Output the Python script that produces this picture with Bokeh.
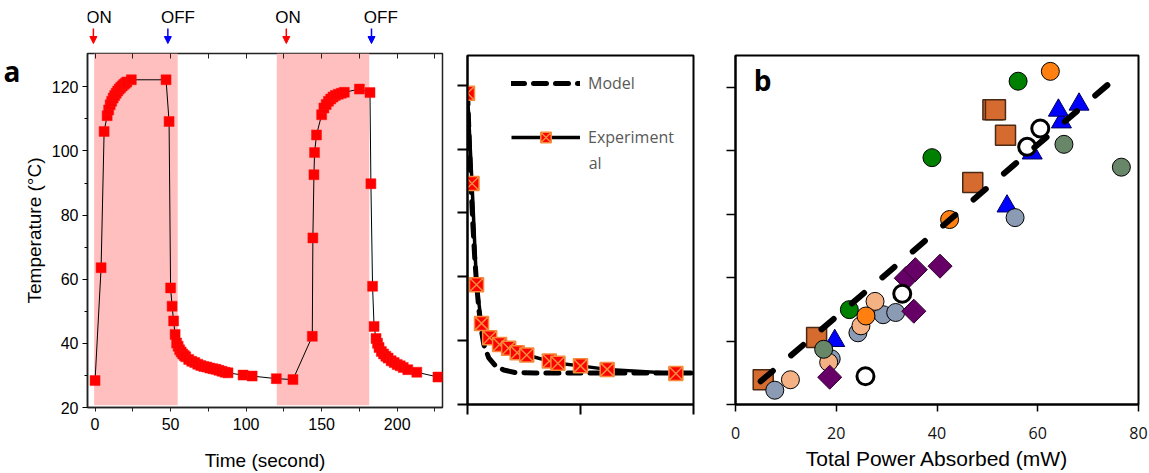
from bokeh.plotting import figure
from bokeh.layouts import row, column
from bokeh.core.properties import value
from bokeh.models import (Range1d, FixedTicker, LinearAxis, BoxAnnotation, Label,
                          Arrow, NormalHead, Legend, LegendItem)
from bokeh.embed import file_html
from bokeh.resources import INLINE

# ---------------- panel a : heating / cooling cycles ----------------
time_s = [0, 4, 6, 8, 9, 10, 11, 12, 13, 14, 15, 16, 17, 18, 19, 20, 21, 24, 47, 49,
          50, 51, 52, 53, 54, 55, 56, 57, 58, 59, 60, 62, 64, 66, 68, 70, 72, 74, 76, 78,
          80, 82, 84, 86, 88, 98, 104, 120,
          131, 143.8, 144.2, 144.9, 145.3, 146.6, 150, 151.5, 153, 154.5, 156, 157.5, 159,
          161, 163, 165, 175, 182,
          182.6, 183.7, 184.7, 186, 187, 188, 189.5, 191, 192.5, 194, 196, 198, 200, 202,
          204, 207, 213, 227]
temp_c = [28.4, 63.6, 106.1, 111, 112.8, 114.4, 115.5, 116.5, 117.3, 118, 118.7, 119.3,
          119.8, 120.3, 120.7, 121.1, 121.5, 122.2, 122.2, 109.2,
          57.3, 51.6, 47.0, 42.8, 40.1, 39.1, 38.0, 37.3, 36.7, 36.2, 35.8, 35.0, 34.4, 34.0,
          33.5, 33.1, 32.8, 32.6, 32.3, 32.1, 31.9, 31.6, 31.3, 31.0, 30.8, 30.1, 29.8, 29.0,
          28.7, 42.2, 72.9, 92.6, 99.5, 105.0, 111.3, 113.4, 114.5, 115.5, 116.2, 116.8,
          117.3, 117.7, 118.0, 118.3, 119.3, 118.2,
          89.8, 57.8, 45.3, 41.5, 40.0, 38.7, 37.5, 36.7, 36.0, 35.4, 34.6, 34.0, 33.4, 33.0,
          32.5, 31.8, 31.0, 29.5]
laser_on_start = [-0.6, 120.3]
laser_on_end = [54.7, 181.5]
on_marks = [-1.1, 126.6]
off_marks = [48.2, 183.0]
on_text_x = [2.6, 127.8]
off_text_x = [54.9, 189.2]
a_xticks = [0, 50, 100, 150, 200]
a_xminor = [25, 75, 125, 175, 225]
a_yticks = [20, 40, 60, 80, 100, 120]
a_yminor = [30, 50, 70, 90, 110]

# ---------------- middle panel : cooling, model vs experiment ----------------
decay_t = [0, 1.0, 2.0, 3.1, 4.9, 7.1, 9.1, 11.0, 13.1, 18.1, 20.0, 25.0, 30.9, 46.1]
decay_T = [117.5, 89.2, 57.5, 45.4, 40.9, 38.8, 37.6, 36.2, 35.5, 33.6, 32.9, 32.1, 31.0, 29.7]
model_t = [0, 0.4, 0.8, 1.2, 1.6, 2.0, 2.5, 3.0, 3.6, 4.7, 6.2, 8.0, 10.6, 15, 25, 35, 50]
model_T = [118, 102, 88, 76, 66, 58, 50, 44, 38.8, 34.6, 32.1, 30.8, 30.0, 29.9, 29.9, 29.9, 29.9]

# ---------------- panel b : temperature vs absorbed power ----------------
sq_p = [5.5, 16.1, 47.1, 51.1, 51.6, 53.6]
sq_T = [27.8, 41.1, 90.0, 112.9, 112.9, 104.9]
tri_p = [19.7, 53.9, 58.9, 64.7, 64.1, 68.2]
tri_T = [40.1, 82.5, 99.2, 109.0, 112.7, 114.6]
bluegrey_p = [7.8, 19.0, 24.3, 29.3, 31.8, 55.5]
bluegrey_T = [24.5, 34.4, 42.6, 48.3, 49.0, 78.9]
peach_p = [10.9, 18.5, 24.9, 27.7]
peach_T = [27.8, 33.3, 44.8, 52.5]
greygreen_p = [17.5, 65.2, 76.6]
greygreen_T = [37.4, 102.0, 94.8]
green_p = [22.6, 39.0, 56.1]
green_T = [49.9, 97.8, 121.9]
orange_p = [25.9, 42.5, 62.5]
orange_T = [47.9, 78.3, 125.0]
dia_p = [18.7, 35.4, 33.9, 35.7, 40.6]
dia_T = [28.6, 49.4, 59.8, 62.5, 63.6]
open_p = [25.8, 33.1, 57.9, 60.5]
open_T = [28.9, 54.9, 101.2, 107.0]
fit_p = [5.0, 77.1]
fit_T = [27.3, 125.1]
b_xticks = [0, 20, 40, 60, 80]
b_yticks = [20, 40, 60, 80, 100, 120]

ARIAL = "Liberation Sans"


def hide_labels(ax):
    ax.major_label_text_color = None
    ax.major_label_text_font_size = "1px"
    ax.major_label_standoff = 0


# ======================= ON / OFF strip above panel a =======================
xr_a = Range1d(-5, 230)
strip = figure(width=455, height=45, x_range=xr_a, y_range=Range1d(0, 45),
               output_backend="svg", toolbar_location=None,
               x_axis_location=None, y_axis_location=None,
               min_border_left=82, min_border_right=13, min_border_top=0, min_border_bottom=0)
strip.grid.visible = False
strip.outline_line_color = None
strip.text(x=on_text_x, y=[28, 28], text=["ON", "ON"], text_align="center",
           text_baseline="middle", text_font=value(ARIAL), text_font_size="17px",
           text_color="black")
strip.text(x=off_text_x, y=[28, 28], text=["OFF", "OFF"], text_align="center",
           text_baseline="middle", text_font=value(ARIAL), text_font_size="17px",
           text_color="black")
for t in on_marks:
    strip.add_layout(Arrow(end=NormalHead(size=7, fill_color="#FF0000", line_color="#FF0000"),
                           x_start=t, y_start=17, x_end=t, y_end=2,
                           line_color="#FF0000", line_width=1.5))
for t in off_marks:
    strip.add_layout(Arrow(end=NormalHead(size=7, fill_color="#0000FF", line_color="#0000FF"),
                           x_start=t, y_start=17, x_end=t, y_end=2,
                           line_color="#0000FF", line_width=1.5))

# ======================= panel a =======================
pa = figure(width=455, height=428, x_range=xr_a, y_range=Range1d(20, 130.4),
            output_backend="svg", toolbar_location=None,
            min_border_left=82, min_border_right=13, min_border_top=8, min_border_bottom=65)
pa.grid.visible = False
pa.outline_line_color = "#222222"
pa.outline_line_width = 1.5

xa = pa.xaxis[0]
xa.ticker = FixedTicker(ticks=a_xticks, minor_ticks=a_xminor)
xa.major_tick_out = 4; xa.major_tick_in = 0
xa.minor_tick_out = 4; xa.minor_tick_in = 0
xa.axis_line_width = 1.5; xa.axis_line_color = "#222222"
xa.major_tick_line_color = "#222222"; xa.minor_tick_line_color = "#222222"
xa.major_label_text_font = ARIAL; xa.major_label_text_font_size = "16px"
xa.major_label_text_color = "black"; xa.major_label_standoff = 6
xa.axis_label = "Time (second)"
xa.axis_label_text_font = ARIAL; xa.axis_label_text_font_size = "19px"
xa.axis_label_text_font_style = "normal"; xa.axis_label_text_color = "black"
xa.axis_label_standoff = 17

ya = pa.yaxis[0]
ya.ticker = FixedTicker(ticks=a_yticks, minor_ticks=a_yminor)
ya.major_tick_out = 5; ya.major_tick_in = 0
ya.minor_tick_out = 3; ya.minor_tick_in = 0
ya.axis_line_width = 1.5; ya.axis_line_color = "#222222"
ya.major_label_text_font = ARIAL; ya.major_label_text_font_size = "16px"
ya.major_label_text_color = "black"; ya.major_label_standoff = 4
ya.axis_label = "Temperature (°C)"
ya.axis_label_text_font = ARIAL; ya.axis_label_text_font_size = "19px"
ya.axis_label_text_font_style = "normal"; ya.axis_label_text_color = "black"
ya.axis_label_standoff = 4

# panel letter "a", carried by an outer left axis with a single labelled tick
letter_ax = LinearAxis(ticker=FixedTicker(ticks=[125]), major_label_overrides={125: "a"},
                       axis_line_color=None, major_tick_line_color=None,
                       minor_tick_line_color=None, major_label_standoff=-6,
                       major_label_orientation="horizontal",
                       major_label_text_font="Open Sans", major_label_text_font_size="28px",
                       major_label_text_font_style="bold", major_label_text_color="black")
pa.add_layout(letter_ax, "left")

top_ax = LinearAxis(ticker=FixedTicker(ticks=a_xticks + a_xminor), major_tick_in=5,
                    major_tick_out=0, minor_tick_line_color=None, axis_line_color=None,
                    major_tick_line_color="#222222")
hide_labels(top_ax)
pa.add_layout(top_ax, "above")

for s, e in zip(laser_on_start, laser_on_end):
    pa.add_layout(BoxAnnotation(left=s, right=e, bottom=20.7, fill_color="#FFBFBF",
                                fill_alpha=1.0, line_color=None, level="underlay"))

pa.line(time_s, temp_c, line_color="black", line_width=1)
pa.scatter(time_s, temp_c, marker="square", size=10, fill_color="#FF0000",
           line_color="#FF1010", line_width=0.5)

# ======================= middle panel =======================
pm = figure(width=250, height=473, x_range=Range1d(0, 50), y_range=Range1d(20, 129.3),
            output_backend="svg", toolbar_location=None,
            min_border_left=12, min_border_right=12, min_border_top=53, min_border_bottom=69)
pm.grid.visible = False
pm.outline_line_color = "black"
pm.outline_line_width = 2

mx = pm.xaxis[0]
mx.ticker = FixedTicker(ticks=[0, 25, 50])
mx.major_tick_out = 10; mx.major_tick_in = 0; mx.major_tick_line_width = 2
mx.minor_tick_line_color = None
mx.axis_line_width = 2
hide_labels(mx)

my = pm.yaxis[0]
my.ticker = FixedTicker(ticks=a_yticks)
my.major_tick_out = 10; my.major_tick_in = 0; my.major_tick_line_width = 2
my.minor_tick_line_color = None
my.axis_line_width = 2
hide_labels(my)

exp_line = pm.line(decay_t, decay_T, line_color="black", line_width=3.5)
model_r = pm.line(model_t, model_T, line_color="black", line_width=5, line_dash="13 9",
                  line_cap="round")
exp_sc = pm.scatter(decay_t, decay_T, marker="square_x", size=14, fill_color="#FF0000",
                    line_color="#F58A3A", line_width=1.5)

leg = Legend(items=[LegendItem(label="Model", renderers=[model_r]),
                    LegendItem(label="Experiment", renderers=[exp_line, exp_sc])],
             location=(44, 254), glyph_width=69, glyph_height=26, label_height=26,
             spacing=28, padding=0, margin=0, border_line_color=None,
             background_fill_alpha=0, label_text_font="Open Sans",
             label_text_font_size="16px", label_text_color="#595959", label_standoff=8)
pm.add_layout(leg)
pm.add_layout(Label(x=26.8, y=95.6, text="al", text_align="left", text_baseline="middle",
                    text_font="Open Sans", text_font_size="16px", text_color="#595959"))

# ======================= panel b =======================
pb = figure(width=444, height=473, x_range=Range1d(0, 80), y_range=Range1d(20, 130),
            output_backend="svg", toolbar_location=None,
            min_border_left=30, min_border_right=11, min_border_top=55, min_border_bottom=66)
pb.grid.visible = False
pb.outline_line_color = "black"
pb.outline_line_width = 2

bx = pb.xaxis[0]
bx.ticker = FixedTicker(ticks=b_xticks)
bx.major_tick_out = 7; bx.major_tick_in = 0; bx.major_tick_line_width = 1.5
bx.minor_tick_line_color = None
bx.axis_line_width = 2
bx.major_label_text_font = "Open Sans"; bx.major_label_text_font_size = "16px"
bx.major_label_text_color = "#111111"; bx.major_label_standoff = 15
bx.axis_label = "Total Power Absorbed (mW)"
bx.axis_label_text_font = ARIAL; bx.axis_label_text_font_size = "21px"
bx.axis_label_text_font_style = "normal"; bx.axis_label_text_color = "black"
bx.axis_label_standoff = 5

by = pb.yaxis[0]
by.ticker = FixedTicker(ticks=b_yticks)
by.major_tick_out = 9; by.major_tick_in = 0; by.major_tick_line_width = 1.5
by.minor_tick_line_color = None
by.axis_line_width = 2
hide_labels(by)

pb.scatter(sq_p, sq_T, marker="square", size=20, fill_color="#D66B30",
           line_color="#4A2A14", line_width=1.5)
pb.scatter(tri_p, tri_T, marker="triangle", size=20, fill_color="#0000FF",
           line_color="#000060", line_width=1)
pb.scatter(bluegrey_p, bluegrey_T, marker="circle", size=18, fill_color="#8A9BB3",
           line_color="black", line_width=1)
pb.scatter(peach_p, peach_T, marker="circle", size=18, fill_color="#F4B183",
           line_color="black", line_width=1)
pb.scatter(greygreen_p, greygreen_T, marker="circle", size=18, fill_color="#688769",
           line_color="black", line_width=1)
pb.scatter(green_p, green_T, marker="circle", size=18, fill_color="#008000",
           line_color="black", line_width=1)
pb.scatter(orange_p, orange_T, marker="circle", size=18, fill_color="#FF7F11",
           line_color="black", line_width=1)
pb.scatter(dia_p, dia_T, marker="square", size=17, angle=0.785398, fill_color="#660066",
           line_color="#330033", line_width=1)
pb.scatter(open_p, open_T, marker="circle", size=17, fill_color="white",
           line_color="black", line_width=3)
pb.line(fit_p, fit_T, line_color="black", line_width=6, line_dash="16 24", line_cap="round")

pb.add_layout(Label(x=5.4, y=122.4, text="b", text_align="center", text_baseline="middle",
                    text_font="Open Sans", text_font_size="28px", text_font_style="bold",
                    text_color="black"))

layout = row(column(strip, pa), pm, pb)
open("out.html", "w").write(file_html(layout, INLINE))
